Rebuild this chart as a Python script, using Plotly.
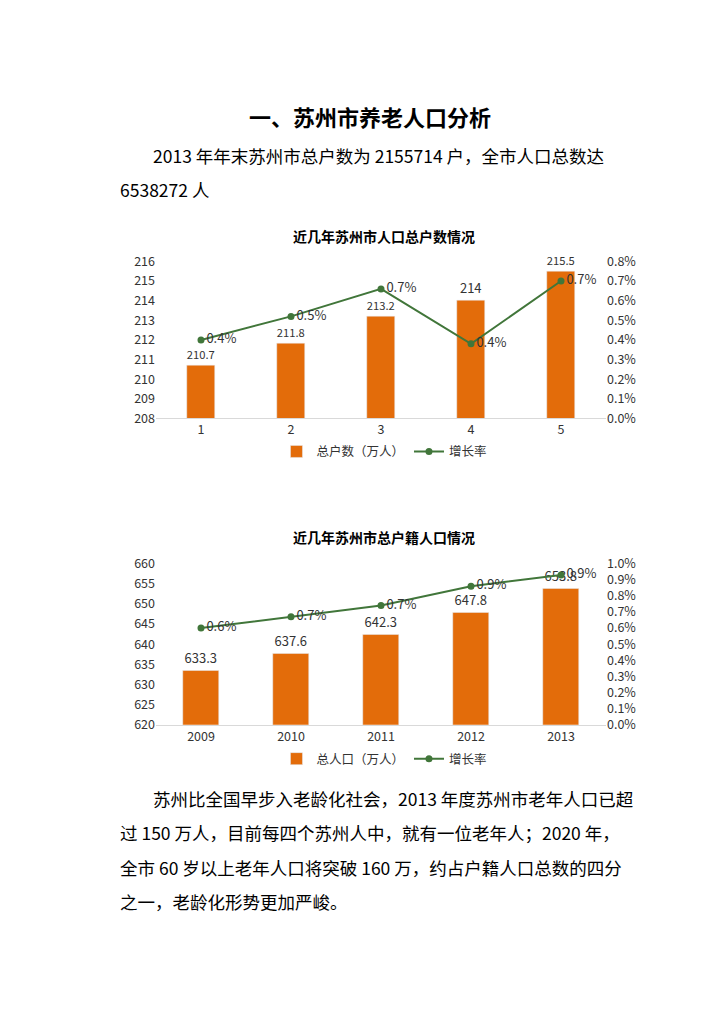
import plotly.graph_objects as go

cat1 = ["1", "2", "3", "4", "5"]
households = [210.7, 211.8, 213.2, 214.0, 215.5]
hh_rate = [0.40, 0.52, 0.66, 0.38, 0.70]
hh_rate_lbl = ["0.4%", "0.5%", "0.7%", "0.4%", "0.7%"]

cat2 = ["2009", "2010", "2011", "2012", "2013"]
population = [633.3, 637.6, 642.3, 647.8, 653.8]
pop_rate = [0.60, 0.67, 0.74, 0.86, 0.93]
pop_rate_lbl = ["0.6%", "0.7%", "0.7%", "0.9%", "0.9%"]

ORANGE = "#E36C0A"
GREEN = "#41763A"
FONT = "Noto Sans CJK SC"
W, H = 724, 1024

def py(p):
    return 1 - p / H

lbl = dict(size=13, color="#333", family=FONT)
fig = go.Figure()
fig.add_trace(go.Bar(x=cat1, y=households, name="总户数（万人）", marker_color=ORANGE, width=0.31,
                     text=[f"{v:g}" for v in households], textposition="outside", cliponaxis=False,
                     textfont=lbl, xaxis="x", yaxis="y", legend="legend"))
fig.add_trace(go.Scatter(x=cat1, y=hh_rate, name="增长率", mode="lines+markers+text", line=dict(color=GREEN, width=2),
                         marker=dict(size=7), text=hh_rate_lbl, textposition="middle right",
                         textfont=lbl, xaxis="x", yaxis="y2", legend="legend", cliponaxis=False))
fig.add_trace(go.Bar(x=cat2, y=population, name="总人口（万人）", marker_color=ORANGE, width=0.4,
                     text=[f"{v:g}" for v in population], textposition="outside", cliponaxis=False,
                     textfont=lbl, xaxis="x2", yaxis="y3", legend="legend2"))
fig.add_trace(go.Scatter(x=cat2, y=pop_rate, name="增长率", mode="lines+markers+text", line=dict(color=GREEN, width=2),
                         marker=dict(size=7), text=pop_rate_lbl, textposition="middle right",
                         textfont=lbl, xaxis="x2", yaxis="y4", legend="legend2", cliponaxis=False))

xd = [148 / W, 598 / W]
d1 = [py(407), py(247)]
d2 = [py(719), py(555)]
tick = dict(size=12.5, color="#333", family=FONT)
xcommon = dict(showline=True, linecolor="#d9d9d9", ticks="", tickfont=tick, showgrid=False, type="category")
fig.update_layout(
    width=W, height=H, margin=dict(l=0, r=0, t=0, b=0),
    paper_bgcolor="white", plot_bgcolor="white", font=dict(family=FONT),
    bargap=0,
    xaxis=dict(domain=xd, anchor="y", **xcommon),
    yaxis=dict(domain=d1, range=[208, 216], dtick=1, showgrid=False, tickfont=tick, zeroline=False),
    yaxis2=dict(overlaying="y", side="right", range=[0, 0.8], dtick=0.1, ticksuffix="%", tickformat=".1f",
                showgrid=False, tickfont=tick, zeroline=False, anchor="x"),
    xaxis2=dict(domain=xd, anchor="y3", **xcommon),
    yaxis3=dict(domain=d2, range=[620, 660], dtick=5, showgrid=False, tickfont=tick, zeroline=False, anchor="x2"),
    yaxis4=dict(overlaying="y3", side="right", range=[0, 1.0], dtick=0.1, ticksuffix="%", tickformat=".1f",
                showgrid=False, tickfont=tick, zeroline=False, anchor="x2"),
    legend=dict(orientation="h", x=0.52, xanchor="center", y=py(441), yanchor="middle", font=tick),
    legend2=dict(orientation="h", x=0.52, xanchor="center", y=py(754), yanchor="middle", font=tick),
)

anns = [
    dict(text="<b>一、苏州市养老人口分析</b>", x=0.5, y=py(99), xanchor="center", size=22),
    dict(text="2013 年年末苏州市总户数为 2155714 户，全市人口总数达", x=143 / W, y=py(139), xanchor="left", size=17.5),
    dict(text="6538272 人", x=110 / W, y=py(174), xanchor="left", size=17.5),
    dict(text="<b>近几年苏州市人口总户数情况</b>", x=0.52, y=py(221), xanchor="center", size=14),
    dict(text="<b>近几年苏州市总户籍人口情况</b>", x=0.52, y=py(528), xanchor="center", size=14),
    dict(text="苏州比全国早步入老龄化社会，2013 年度苏州市老年人口已超", x=143 / W, y=py(794), xanchor="left", size=17.5),
    dict(text="过 150 万人，目前每四个苏州人中，就有一位老年人；2020 年，", x=110 / W, y=py(829), xanchor="left", size=17.5),
    dict(text="全市 60 岁以上老年人口将突破 160 万，约占户籍人口总数的四分", x=110 / W, y=py(865), xanchor="left", size=17.5),
    dict(text="之一，老龄化形势更加严峻。", x=110 / W, y=py(899), xanchor="left", size=17.5),
]
for a in anns:
    fig.add_annotation(text=a["text"], x=a["x"], y=a["y"], xref="paper", yref="paper", xanchor=a["xanchor"],
                       yanchor="middle", showarrow=False, font=dict(size=a["size"], color="#000", family=FONT))

fig.write_html("out.html")
